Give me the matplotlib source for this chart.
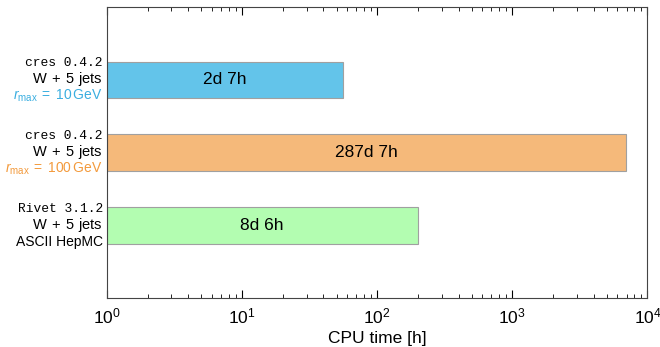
import matplotlib
matplotlib.use("Agg")
import matplotlib.pyplot as plt
import numpy as np

plt.rcParams["font.family"] = ["Liberation Sans", "DejaVu Sans"]
plt.rcParams["mathtext.fontset"] = "custom"
plt.rcParams["mathtext.rm"] = "Liberation Sans"
plt.rcParams["mathtext.it"] = "Liberation Sans:italic"
plt.rcParams["mathtext.bf"] = "Liberation Sans:bold"

# CPU time per setup
codes = ["cres 0.4.2", "cres 0.4.2", "Rivet 3.1.2"]
processes = [r"$\mathrm{W}\;+\;5$ jets"] * 3
details = [r"$r_\mathrm{max}\;=\;10\,\mathrm{GeV}$",
           r"$r_\mathrm{max}\;=\;100\,\mathrm{GeV}$",
           "ASCII HepMC"]
detail_colors = ["#3aaee0", "#f39a3c", "black"]
days = [2, 287, 8]
hours = [7, 7, 6]
bar_colors = ["#63c4ea", "#f5b97a", "#b3fdb1"]

cpu_hours = [d * 24 + h for d, h in zip(days, hours)]
bar_text = [f"{d}d {h}h" for d, h in zip(days, hours)]

fig, ax = plt.subplots(figsize=(6.6, 3.47), dpi=100)
fig.subplots_adjust(left=0.162, right=0.981, top=0.98, bottom=0.14)

ypos = np.arange(len(cpu_hours))
ax.barh(ypos, cpu_hours, left=1, height=0.5, color=bar_colors,
        edgecolor="#a0a0a0", linewidth=0.8, zorder=2)
for y, t, text in zip(ypos, cpu_hours, bar_text):
    ax.text(np.sqrt(t), y, text, ha="center", va="center", fontsize=12.5)

ax.set_xscale("log")
ax.set_xlim(1, 1e4)
ax.set_ylim(3, -1)
ax.set_yticks([])
ax.set_xlabel("CPU time [h]", fontsize=12.5, labelpad=3)
ax.tick_params(axis="x", which="both", direction="in", top=True,
               labelsize=12.5, pad=6)
ax.tick_params(axis="x", which="major", length=6)
ax.tick_params(axis="x", which="minor", length=3)
for s in ax.spines.values():
    s.set_color("#444444")

# three-line labels to the left of each bar
for y, code, proc, det, c in zip(ypos, codes, processes, details, detail_colors):
    ax.annotate(code, xy=(0, y), xycoords=("axes fraction", "data"),
                xytext=(-3, 12), textcoords="offset points",
                ha="right", va="center", fontsize=9.3, family="Liberation Mono")
    ax.annotate(proc, xy=(0, y), xycoords=("axes fraction", "data"),
                xytext=(-3, 0.5), textcoords="offset points",
                ha="right", va="center", fontsize=10.5)
    ax.annotate(det, xy=(0, y), xycoords=("axes fraction", "data"),
                xytext=(-3, -11.5), textcoords="offset points",
                ha="right", va="center", fontsize=10, color=c)

fig.savefig("out.png", dpi=100)
